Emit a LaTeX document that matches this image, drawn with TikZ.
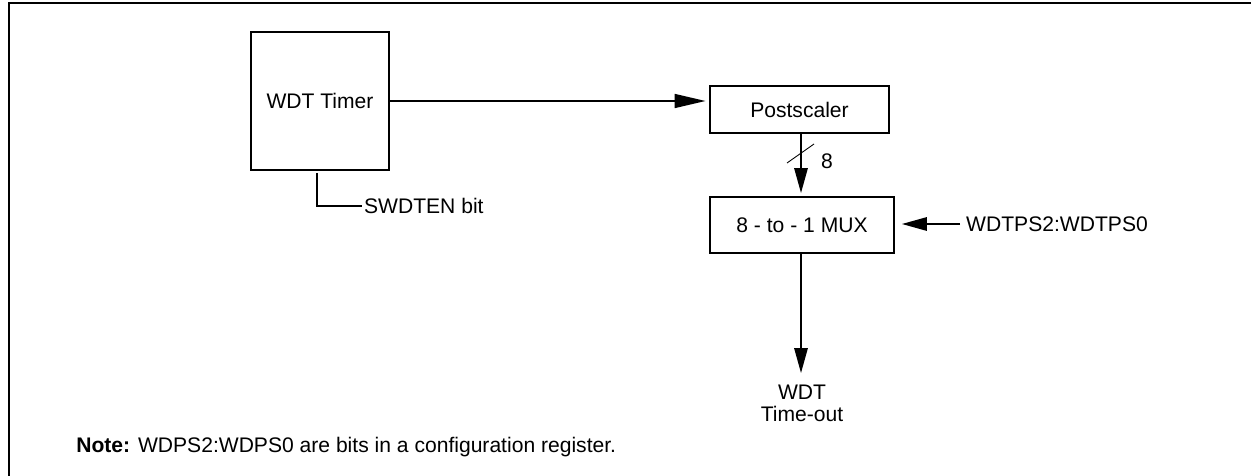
\documentclass[tikz,border=0pt]{standalone}
\usepackage{fontspec}
\setmainfont{Liberation Sans}
\usetikzlibrary{arrows.meta}
\tikzset{
  blockbox/.style={draw, line width=1.1pt, inner sep=0pt},
  arr/.style={line width=0.9pt, -{Triangle[length=0.5cm, width=0.27cm]}},
  longarr/.style={line width=0.9pt, -{Triangle[length=0.62cm, width=0.28cm]}}
}
\begin{document}
\begin{tikzpicture}[x=0.02cm, y=-0.02cm, font=\fontsize{12pt}{14pt}\selectfont]
    % 画布范围与外框（只有上边和左边）
    \useasboundingbox (0,0) rectangle (1251,476);
    \draw[line width=1.1pt] (9,476) -- (9,3) -- (1251,3);

    % 三个方框
    \node[blockbox, minimum width=2.76cm, minimum height=2.76cm] (timer) at (320,101) {WDT Timer};
    \node[blockbox, minimum width=3.58cm, minimum height=0.94cm] (post) at (799.5,109.5) {Postscaler};
    \node[blockbox, minimum width=3.68cm, minimum height=1.12cm] (mux) at (802,225) {8 - to - 1 MUX};

    % 标签
    \node[anchor=west, inner sep=1pt] (swdten) at (362,206) {SWDTEN bit};
    \node (width) at (827,161) {8};
    \node[anchor=west] (sel) at (960,224) {WDTPS2:WDTPS0};
    \node[anchor=north, align=center, font=\fontsize{12pt}{12.5pt}\selectfont] (timeout) at (802,379) {WDT\\Time-out};

    % 连线与箭头
    \draw[longarr, shorten >=0.07cm] (timer.east |- 0,101) -- (post.west |- 0,101);
    \draw[line width=0.9pt] ([xshift=-0.06cm, yshift=-0.04cm]timer.south) |- (swdten.west);
    \draw[arr, shorten >=0.08cm] (801,133) -- (801,197);
    \draw[line width=0.5pt] (801,153) ++(-14,10) -- ++(27,-19);
    \draw[arr, shorten >=0.14cm] (sel.west) -- (mux.east |- sel.west);
    \draw[arr, shorten >=0.12cm] (801,253) -- (timeout.north -| 801,0);

    % 注释
    \node[anchor=west, inner sep=0pt] (note) at (76,447)
        {\textbf{Note:} WDPS2:WDPS0 are bits in a configuration register.};
\end{tikzpicture}
\end{document}
